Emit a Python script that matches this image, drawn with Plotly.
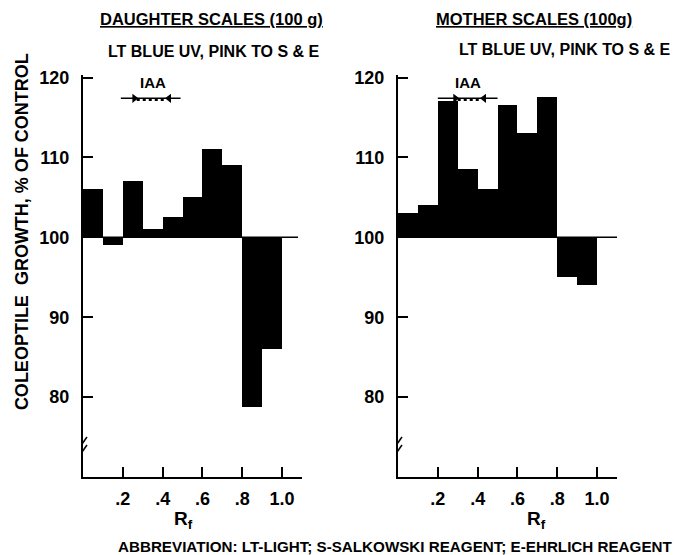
import plotly.graph_objects as go

rf_centers = [0.05, 0.15, 0.25, 0.35, 0.45, 0.55, 0.65, 0.75, 0.85, 0.95]
daughter = [106, 99, 107, 101, 102.5, 105, 111, 109, 78.7, 86]
mother = [103, 104, 117, 108.5, 106, 116.5, 113, 117.5, 95, 94]
ytick_vals = [80, 90, 100, 110, 120]
ytick_text = ["80", "90", "100", "110", "120"]
xtick_vals = [0.2, 0.4, 0.6, 0.8, 1.0]
xtick_text = [".2", ".4", ".6", ".8", "1.0"]
baseline = 100
iaa_level = 117.4
iaa_line = {"daughter": (0.19, 0.49, 0.27, 0.42), "mother": (0.2, 0.5, 0.3, 0.42)}

W, H = 676, 555
FONT = "Liberation Sans"


def px_x(xp):
    return xp / W


def px_y(yp):
    return 1 - yp / H


fig = go.Figure()

for vals, xa, ya in [(daughter, "x", "y"), (mother, "x2", "y2")]:
    fig.add_trace(go.Bar(
        x=rf_centers, y=[v - baseline for v in vals], base=baseline,
        width=0.1, marker=dict(color="black", line=dict(width=0)),
        xaxis=xa, yaxis=ya, showlegend=False, hoverinfo="skip",
    ))

ydom = [px_y(476), px_y(69)]
axcommon = dict(showgrid=False, zeroline=False, showline=True, linecolor="black",
                linewidth=2, ticks="inside", ticklen=10, tickwidth=1.5, tickcolor="black",
                ticklabelstandoff=8,
                tickfont=dict(family=FONT, size=18, color="black", weight="bold"))
fig.update_layout(
    width=W, height=H, margin=dict(l=0, r=0, t=0, b=0),
    plot_bgcolor="white", paper_bgcolor="white", bargap=0,
    xaxis=dict(domain=[px_x(83), px_x(302)], range=[0, 1.1], tickvals=xtick_vals,
               ticktext=xtick_text, anchor="y", **axcommon),
    yaxis=dict(domain=ydom, range=[70, 120.3], tickvals=ytick_vals,
               ticktext=ytick_text, anchor="x", **axcommon),
    xaxis2=dict(domain=[px_x(398), px_x(617)], range=[0, 1.1], tickvals=xtick_vals,
                ticktext=xtick_text, anchor="y2", **axcommon),
    yaxis2=dict(domain=ydom, range=[70, 120.3], tickvals=ytick_vals,
                ticktext=ytick_text, anchor="x2", **axcommon),
)
fig.update_xaxes(ticklabelstandoff=4)

shapes = []
annotations = []
# baselines
shapes.append(dict(type="line", xref="x", yref="y", x0=0, x1=1.08, y0=baseline, y1=baseline,
                   line=dict(color="black", width=1.5)))
shapes.append(dict(type="line", xref="x2", yref="y2", x0=0, x1=1.12, y0=baseline, y1=baseline,
                   line=dict(color="black", width=1.5)))
# axis break marks
for xr, yr in [("x", "y"), ("x2", "y2")]:
    for dy in (0.0, 1.0):
        shapes.append(dict(type="line", xref=xr, yref=yr, x0=-0.02, x1=0.02,
                           y0=72.6 + dy, y1=74.0 + dy, line=dict(color="black", width=1.5)))

# IAA markers
for key, xr, yr in [("daughter", "x", "y"), ("mother", "x2", "y2")]:
    l0, l1, a0, a1 = iaa_line[key]
    yv = iaa_level
    shapes.append(dict(type="line", xref=xr, yref=yr, x0=l0, x1=l1, y0=yv, y1=yv,
                       line=dict(color="black", width=1.5)))
    shapes.append(dict(type="line", xref=xr, yref=yr, x0=a0, x1=a1, y0=yv - 0.15, y1=yv - 0.15,
                       line=dict(color="black", width=3, dash="dot")))
    fig.add_trace(go.Scatter(
        x=[a0 - 0.012, a1 + 0.012], y=[yv, yv], mode="markers",
        marker=dict(symbol=["triangle-right", "triangle-left"], size=8, color="black"),
        xaxis=xr, yaxis=yr, showlegend=False, hoverinfo="skip",
    ))
    annotations.append(dict(xref=xr, yref=yr, x=0.35, y=yv + 0.7, text="IAA", showarrow=False,
                            yanchor="bottom", font=dict(family=FONT, size=15, color="black",
                                                        weight="bold")))


def add_text(xp, yp, text, size, xanchor="center", angle=0):
    annotations.append(dict(xref="paper", yref="paper", x=px_x(xp), y=px_y(yp), text=text,
                            showarrow=False, xanchor=xanchor, yanchor="middle",
                            textangle=angle,
                            font=dict(family=FONT, size=size, color="black", weight="bold")))


add_text(211, 12, "<u>DAUGHTER SCALES (100 g)</u>", 16.5)
add_text(214, 45, "LT BLUE UV, PINK TO S &amp; E", 16)
add_text(534, 12, "<u>MOTHER SCALES (100g)</u>", 16.5)
add_text(565, 43, "LT BLUE UV, PINK TO S &amp; E", 16)
add_text(22, 228, "COLEOPTILE  GROWTH, % OF CONTROL", 18, angle=-90)
add_text(183, 520, "R<sub>f</sub>", 19)
add_text(536, 520, "R<sub>f</sub>", 19)
add_text(116, 546, "ABBREVIATION: LT-LIGHT; S-SALKOWSKI REAGENT; E-EHRLICH REAGENT", 15.2,
         xanchor="left")

fig.update_layout(shapes=shapes, annotations=annotations)
fig.write_html("out.html", config={"displayModeBar": False},
               post_script="document.body.style.margin='0';document.body.style.overflow='hidden';")
